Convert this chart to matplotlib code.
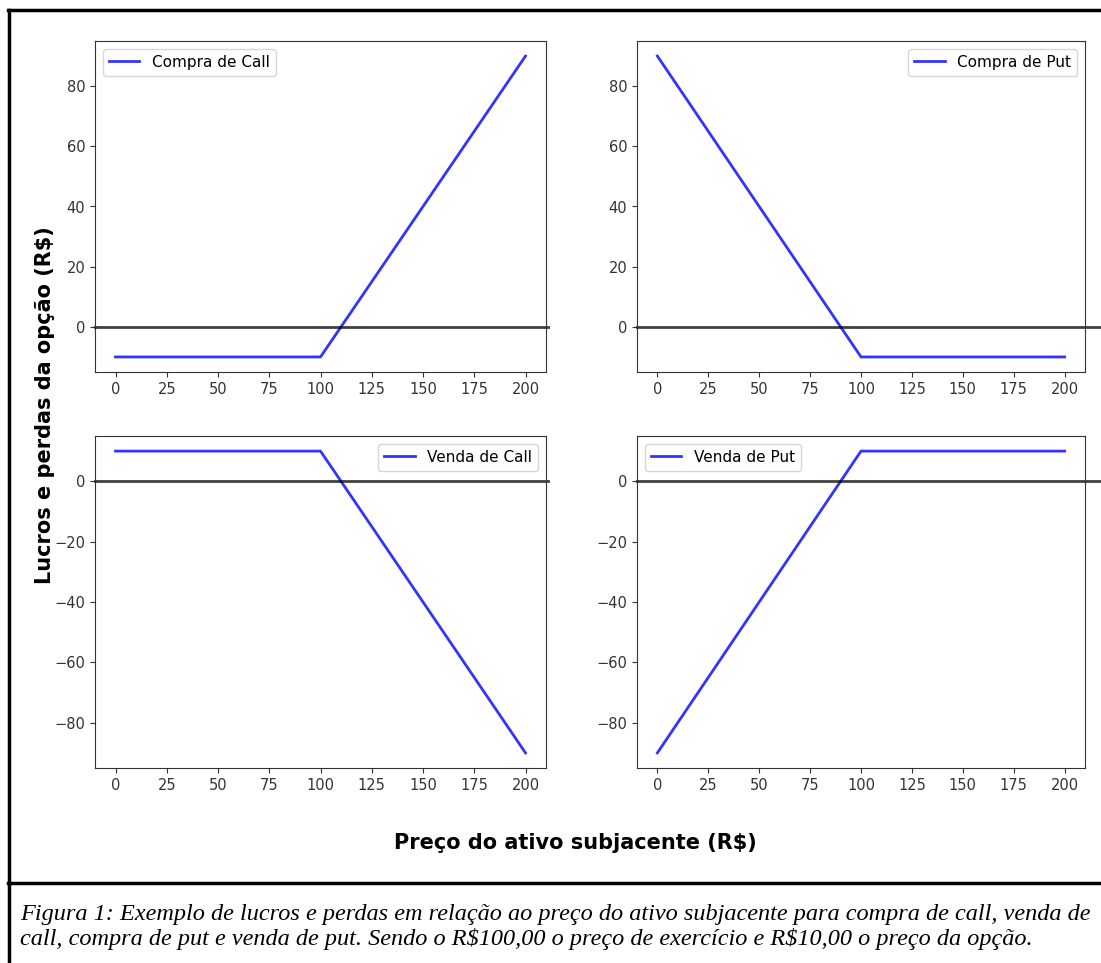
import matplotlib
matplotlib.use('Agg')
import matplotlib.pyplot as plt
from matplotlib.lines import Line2D

# preço do ativo e resultado de cada estratégia (strike 100, prêmio 10)
preco = [0, 100, 200]
compra_call = [-10, -10, 90]
compra_put = [90, -10, -10]
venda_call = [10, 10, -90]
venda_put = [-90, 10, 10]
nomes = ['Compra de Call', 'Compra de Put', 'Venda de Call', 'Venda de Put']
xticks = [0, 25, 50, 75, 100, 125, 150, 175, 200]

W, H = 1101, 963
fig = plt.figure(figsize=(W / 100, H / 100), dpi=100)

def box(l, t, r, b):
    return [l / W, 1 - b / H, (r - l) / W, (b - t) / H]

pos = [box(95, 41, 546, 372), box(637, 41, 1085, 372),
       box(95, 436, 546, 768), box(637, 436, 1085, 768)]
series = [compra_call, compra_put, venda_call, venda_put]
locs = ['upper left', 'upper right', 'upper right', 'upper left']
ext = [1.005, 1.04, 1.005, 1.04]

for p, y, nome, loc, xe in zip(pos, series, nomes, locs, ext):
    ax = fig.add_axes(p)
    ax.plot(preco, y, color='blue', alpha=0.8, lw=2, label=nome)
    ax.axhline(0, xmin=0, xmax=xe, color='black', alpha=0.75, lw=2, clip_on=False)
    ax.set_xticks(xticks)
    ax.set_xlim(-10, 210)
    ax.margins(y=0.05)
    ax.tick_params(labelsize=10.5, colors='#333333')
    for s in ax.spines.values():
        s.set_color('#333333')
    ax.legend(loc=loc, fontsize=11)

fig.text(45 / W, 1 - 405 / H, r'Lucros e perdas da opção (R\$)', rotation=90,
         ha='center', va='center', fontsize=15, fontweight='bold')
fig.text(575 / W, 1 - 843 / H, r'Preço do ativo subjacente (R\$)',
         ha='center', va='center', fontsize=15, fontweight='bold')

# moldura
fig.add_artist(Line2D([9 / W, 9 / W], [0, 1 - 10 / H], color='black', lw=2.5))
fig.add_artist(Line2D([8 / W, 1], [1 - 10 / H, 1 - 10 / H], color='black', lw=2.5))
fig.add_artist(Line2D([8 / W, 1], [1 - 883 / H, 1 - 883 / H], color='black', lw=2.5))

legenda = ('Figura 1: Exemplo de lucros e perdas em relação ao preço do ativo subjacente '
           'para compra de call, venda de\ncall, compra de put e venda de put. Sendo o '
           r'R\$100,00 o preço de exercício e R\$10,00 o preço da opção.')
fig.text(20 / W, 1 - 927 / H, legenda, ha='left', va='center', fontsize=17.5,
         family='Liberation Serif', style='italic', linespacing=1.15)

fig.savefig('out.png', dpi=100)
